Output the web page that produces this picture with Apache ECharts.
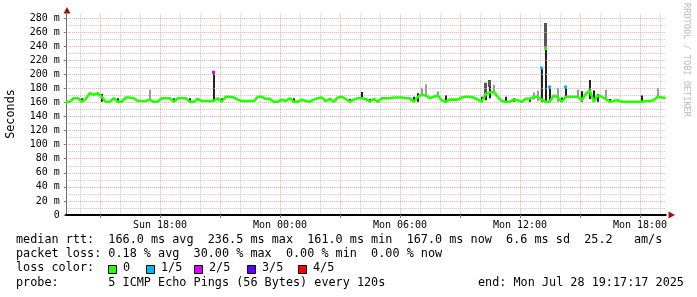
<!DOCTYPE html>
<html><head><meta charset="utf-8">
<script src="https://cdn.jsdelivr.net/npm/echarts@6/dist/echarts.min.js"></script>
<style>html,body{margin:0;padding:0;background:#fff}#c{width:697px;height:297px}</style>
</head><body><div id="c"></div><script>
// time in hours since Sun 00:00
const T0 = 13 + 17/60 + 17/3600;
const STEP = 0.2; // 12-minute samples
const SPAN = 30;
const yMin = 0, yMax = 286;
const yTickValues = [0,20,40,60,80,100,120,140,160,180,200,220,240,260,280];
const xLabelHours = [18,24,30,36,42];
const xLabelTexts = ['Sun 18:00','Mon 00:00','Mon 06:00','Mon 12:00','Mon 18:00'];

const median = [
161,161,166,166,161,165,173,171,173,168,
161,161,166,161,161,167,167,166,162,162,
162,164,161,161,166,166,166,161,166,166,
166,161,161,165,162,162,162,162,166,161,
168,168,167,164,162,162,162,162,168,168,
165,165,161,161,164,162,166,161,161,164,
162,161,164,166,167,162,165,161,167,168,
165,161,164,166,166,165,161,165,161,166,
166,166,167,167,167,166,166,161,168,171,
170,166,168,170,163,161,164,164,164,167,
168,168,167,164,161,172,174,175,168,162,
161,161,164,163,161,165,165,168,168,164,
161,161,170,167,161,168,168,168,168,163,
172,177,161,170,168,165,161,162,163,161,
161,161,161,161,161,162,162,163,168,167,
166];

// loss-coloured median tips (sample index, value, loss level)
const tipIdx   = [37, 119, 120, 121, 125];
const tipVal   = [203, 209, 236.5, 182, 182];
const tipLevel = [2, 1, 0, 1, 1];

// smoke (sample index, low, high, shade 0=dark 1=mid 2=light)
const smokeIdx   = [37,74,88,105,106,119,120,121,125,129,131,133,144, 4,9,13,27,31,39,57,71,76,87,95,104,110,112,116,124,132,136, 21,89,90,93,105,106,107,117,118,120,123,128,135,148];
const smokeLo    = [162,165,161,163,166,161,161,161,168,161,165,161,161, 161,161,161,161,161,161,161,161,161,161,161,161,161,161,161,161,161,161, 164,170,168,168,172,182,175,164,162,237,161,168,163,168];
const smokeHi    = [203,175,173,178,182,209,237,182,182,176,192,172,170, 166,172,166,166,166,166,166,165,165,168,170,168,168,166,166,167,177,165, 178,181,186,176,188,192,185,174,177,273,181,178,178,180];
const smokeShade = [0,0,0,0,0,0,0,0,0,0,0,0,0, 0,0,0,0,0,0,0,0,0,0,0,0,0,0,0,0,0,0, 2,2,2,2,1,1,2,2,2,1,2,2,2,2];

const lossLabels = ['0','1/5','2/5','3/5','4/5'];
const lossColors = ['#26ff00','#00b8ff','#dd00ff','#5e00ff','#ff0000'];

const legendLines = [
  'median rtt:  166.0 ms avg  236.5 ms max  161.0 ms min  167.0 ms now  6.6 ms sd  25.2   am/s',
  'packet loss: 0.18 % avg  30.00 % max  0.00 % min  0.00 % now'
];
const probeText = 'probe:       5 ICMP Echo Pings (56 Bytes) every 120s';
const endText = 'end: Mon Jul 28 19:17:17 2025';

const MONO = "'DejaVu Sans Mono', monospace";
const shadeColors = ['#222222','#555555','#9a9a9a'];

const redHours = [], grayHours = [];
for (let h = 14; h <= 43; h++) { (h % 3 === 0 ? redHours : grayHours).push(h); }
const minorY = [];
for (let v = 10; v < yMax; v += 20) minorY.push(v);

const chart = echarts.init(document.getElementById('c'), null, {renderer:'canvas'});

const gridL = 65.76, gridT = 13.8, gridW = 600, gridH = 201.2;

const legendGraphics = [];
legendLines.forEach((t, k) => legendGraphics.push({type:'text', left:16, top: 241 + k*14 - 7,
  style:{text:t, font:'11.8px ' + MONO, fill:'#000'}}));
legendGraphics.push({type:'text', left:16, top:269-7, style:{text:'loss color:', font:'11.8px ' + MONO, fill:'#000'}});
const boxX = [108, 146, 194, 247, 298];
lossLabels.forEach((l, k) => {
  legendGraphics.push({type:'rect', shape:{x:boxX[k]+0.5, y:265.5, width:8, height:8}, style:{fill:lossColors[k], stroke:'#000', lineWidth:1}});
  legendGraphics.push({type:'text', left:boxX[k]+15, top:269-7, style:{text:l, font:'11.8px ' + MONO, fill:'#000'}});
});
legendGraphics.push({type:'text', left:16, top:284-7, style:{text:probeText, font:'11.8px ' + MONO, fill:'#000'}});
legendGraphics.push({type:'text', left:478, top:284-7, style:{text:endText, font:'11.8px ' + MONO, fill:'#000'}});
// axis title and watermark
legendGraphics.push({type:'text', x:11, y:114, rotation:Math.PI/2,
  style:{text:'Seconds', font:'11.8px ' + MONO, fill:'#000', align:'center', verticalAlign:'middle'}});
legendGraphics.push({type:'text', x:686, y:60, rotation:-Math.PI/2,
  style:{text:'RRDTOOL / TOBI OETIKER', font:'8.6px ' + MONO, fill:'#bdbdbd', align:'center', verticalAlign:'middle'}});
// axis arrows
legendGraphics.push({type:'polygon', shape:{points:[[67,7],[63.5,13.5],[70.5,13.5]]}, style:{fill:'#a01010'}});
legendGraphics.push({type:'polygon', shape:{points:[[675,215],[668.5,211.5],[668.5,218.5]]}, style:{fill:'#a01010'}});

const axisLabelStyle = {fontFamily: MONO, fontSize: 10, color:'#000'};

chart.setOption({
  animation:false,
  backgroundColor:'#fff',
  grid:{left:gridL, top:gridT, width:gridW, height:gridH, containLabel:false, outerBoundsMode:'none'},
  xAxis:[
    {type:'value', min:T0, max:T0+SPAN, position:'top', z:1,
     axisLine:{show:false}, axisLabel:{show:false},
     axisTick:{show:true, customValues:grayHours, length:0, lineStyle:{color:'rgba(0,0,0,0)'}},
     splitLine:{show:true, lineStyle:{color:'#c4c4c4', type:[1,1], width:1}}},
    {type:'value', min:T0, max:T0+SPAN, position:'bottom', z:3,
     axisLine:{show:true, onZero:false, lineStyle:{color:'#000', width:2}},
     axisTick:{show:true, customValues:redHours, length:3, lineStyle:{color:'#d06060'}},
     axisLabel:{customValues:xLabelHours, margin:5, ...axisLabelStyle,
       formatter:(v)=>{const k = xLabelHours.indexOf(Math.round(v)); return k>=0?xLabelTexts[k]:'';}},
     splitLine:{show:true, lineStyle:{color:'#eea4a4', type:[1,1], width:1}}}
  ],
  yAxis:[
    {type:'value', min:yMin, max:yMax, z:1, position:'right',
     axisLine:{show:false}, axisLabel:{show:false},
     axisTick:{show:true, customValues:minorY, length:0, lineStyle:{color:'rgba(0,0,0,0)'}},
     splitLine:{show:true, lineStyle:{color:'#c4c4c4', type:[1,1], width:1}}},
    {type:'value', min:yMin, max:yMax, z:3, position:'left',
     axisLine:{show:true, lineStyle:{color:'#707070', width:1}},
     axisTick:{show:true, customValues:yTickValues, length:2, lineStyle:{color:'#707070'}},
     axisLabel:{customValues:yTickValues, margin:6, ...axisLabelStyle,
       formatter:(v)=> v===0 ? '0' : (v + ' m')},
     splitLine:{show:true, lineStyle:{color:'#eea4a4', type:[1,1], width:1}}}
  ],
  graphic: legendGraphics,
  series:[
    {type:'custom', xAxisIndex:1, yAxisIndex:1, z:2, clip:true,
     data: smokeIdx.map((k,j)=>[T0+k*STEP, smokeLo[j], smokeHi[j], smokeShade[j]]),
     renderItem:(params, api)=>{
       const t = api.value(0), lo = api.value(1), hi = api.value(2), s = api.value(3);
       const p1 = api.coord([t, hi]), p2 = api.coord([t, lo]);
       const w = s===1 ? 3 : 2;
       return {type:'rect', shape:{x:Math.round(p1[0]-w/2), y:p1[1], width:w, height:p2[1]-p1[1]},
               style:{fill:shadeColors[s]}};
     }},
    {type:'line', xAxisIndex:1, yAxisIndex:1, z:3, showSymbol:false, symbol:'none',
     data: median.map((v,i)=>[T0+i*STEP, v]),
     lineStyle:{color:lossColors[0], width:2.6}},
    {type:'custom', xAxisIndex:1, yAxisIndex:1, z:4,
     data: tipIdx.map((k,j)=>[T0+k*STEP, tipVal[j], tipLevel[j]]),
     renderItem:(params, api)=>{
       const p = api.coord([api.value(0), api.value(1)]);
       return {type:'rect', shape:{x:Math.round(p[0]-1.5), y:p[1]-1.5, width:3, height:3},
               style:{fill:lossColors[api.value(2)]}};
     }}
  ]
});
</script></body></html>
